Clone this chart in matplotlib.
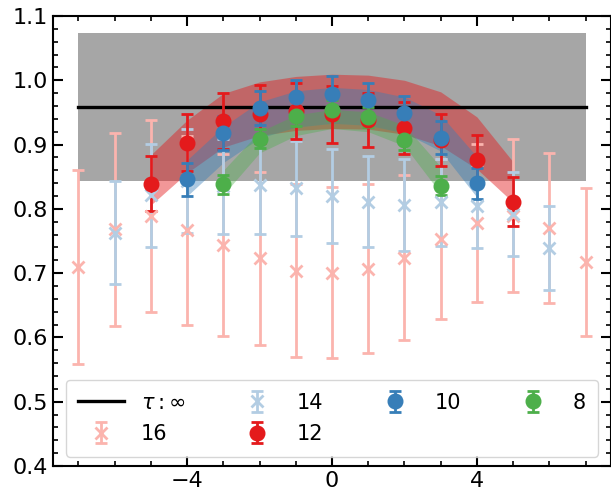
import numpy as np
import matplotlib
matplotlib.use("Agg")
import matplotlib.pyplot as plt
from matplotlib.ticker import MultipleLocator

# ---- data -------------------------------------------------------------
tau16 = np.arange(-7, 8)
val16 = [0.710, 0.768, 0.789, 0.767, 0.744, 0.723, 0.704, 0.701,
         0.707, 0.724, 0.753, 0.778, 0.789, 0.770, 0.717]
err16 = [0.151, 0.150, 0.149, 0.147, 0.141, 0.135, 0.134, 0.133,
         0.131, 0.128, 0.125, 0.123, 0.119, 0.117, 0.115]

tau14 = np.arange(-6, 7)
val14 = [0.763, 0.821, 0.843, 0.835, 0.837, 0.832, 0.820,
         0.811, 0.806, 0.810, 0.804, 0.792, 0.739]
err14 = [0.080, 0.080, 0.081, 0.074, 0.076, 0.074, 0.073,
         0.071, 0.071, 0.068, 0.065, 0.066, 0.065]

tau12 = np.arange(-5, 6)
val12 = [0.839, 0.903, 0.9365, 0.947, 0.952, 0.947, 0.938, 0.926, 0.907, 0.876, 0.811]
err12 = [0.043, 0.044, 0.044, 0.045, 0.044, 0.044, 0.042, 0.041, 0.041, 0.039, 0.038]

tau10 = np.arange(-4, 5)
val10 = [0.846, 0.918, 0.957, 0.974, 0.979, 0.970, 0.949, 0.911, 0.840]
err10 = [0.026, 0.027, 0.026, 0.027, 0.027, 0.026, 0.027, 0.025, 0.024]

tau8 = np.arange(-3, 4)
val8 = [0.838, 0.909, 0.944, 0.954, 0.943, 0.907, 0.836]
err8 = [0.015, 0.015, 0.015, 0.015, 0.015, 0.016, 0.015]

# fit bands (lower / upper edge at each tau)
band12_lo = [0.806, 0.856, 0.896, 0.914, 0.922, 0.925, 0.924, 0.916, 0.898, 0.862, 0.810]
band12_hi = [0.884, 0.938, 0.9795, 0.9975, 1.006, 1.0095, 1.008, 1.000, 0.982, 0.943, 0.873]
band10_lo = [0.820, 0.872, 0.910, 0.927, 0.933, 0.930, 0.918, 0.890, 0.818]
band10_hi = [0.876, 0.928, 0.9665, 0.9835, 0.989, 0.9857, 0.974, 0.946, 0.881]
band8_lo = [0.822, 0.887, 0.914, 0.925, 0.920, 0.898, 0.824]
band8_hi = [0.860, 0.920, 0.946, 0.9547, 0.951, 0.930, 0.8655]

# extrapolated plateau
plateau = 0.958
plateau_err = 0.115
plateau_range = [-7, 7]

# ---- figure -----------------------------------------------------------
fig = plt.figure(figsize=(6.11, 4.91), dpi=100)
ax = fig.add_axes([53 / 611, 25 / 491, 558 / 611, 450 / 491])

c16, c14 = "#fbb4ae", "#b3cde3"
c12, c10, c8 = "#e41a1c", "#377eb8", "#4daf4a"

ax.fill_between(plateau_range, plateau - plateau_err, plateau + plateau_err,
                color="grey", alpha=0.7, lw=0, zorder=1)

ax.fill_between(tau12, band12_lo, band12_hi, color=c12, alpha=0.45, lw=0, zorder=2)
ax.fill_between(tau10, band10_lo, band10_hi, color=c10, alpha=0.42, lw=0, zorder=2)
ax.fill_between(tau8, band8_lo, band8_hi, color=c8, alpha=0.38, lw=0, zorder=2)

line, = ax.plot(plateau_range, [plateau, plateau], color="black", lw=2.4, zorder=3,
                label=r"$\tau:\infty$")

ekw = dict(elinewidth=2, capsize=4.5, capthick=2, zorder=4)
h16 = ax.errorbar(tau16, val16, yerr=err16, fmt="x", color=c16, ms=9, mew=2,
                  label="16", **ekw)
h14 = ax.errorbar(tau14, val14, yerr=err14, fmt="x", color=c14, ms=9, mew=2,
                  label="14", **ekw)
h12 = ax.errorbar(tau12, val12, yerr=err12, fmt="o", color=c12, ms=10.5,
                  label="12", **ekw)
h10 = ax.errorbar(tau10, val10, yerr=err10, fmt="o", color=c10, ms=10.5,
                  label="10", **ekw)
h8 = ax.errorbar(tau8, val8, yerr=err8, fmt="o", color=c8, ms=10.5,
                 label="8", **ekw)

ax.set_xlim(-7.7, 7.7)
ax.set_ylim(0.4, 1.1)
ax.xaxis.set_major_locator(MultipleLocator(4))
ax.xaxis.set_minor_locator(MultipleLocator(1))
ax.yaxis.set_major_locator(MultipleLocator(0.1))
ax.yaxis.set_minor_locator(MultipleLocator(0.02))
ax.tick_params(which="both", direction="in", top=True, right=True, labelsize=16)
ax.tick_params(which="major", length=7, width=1.5)
ax.tick_params(which="minor", length=3.5, width=1.2)
for s in ax.spines.values():
    s.set_linewidth(1.5)

ax.legend(handles=[line, h16, h14, h12, h10, h8], ncol=4, loc="lower center",
          fontsize=15, handlelength=2.2, columnspacing=2.35,
          borderpad=0.6, labelspacing=0.55, borderaxespad=0.45)

fig.savefig("out.png", dpi=100)
